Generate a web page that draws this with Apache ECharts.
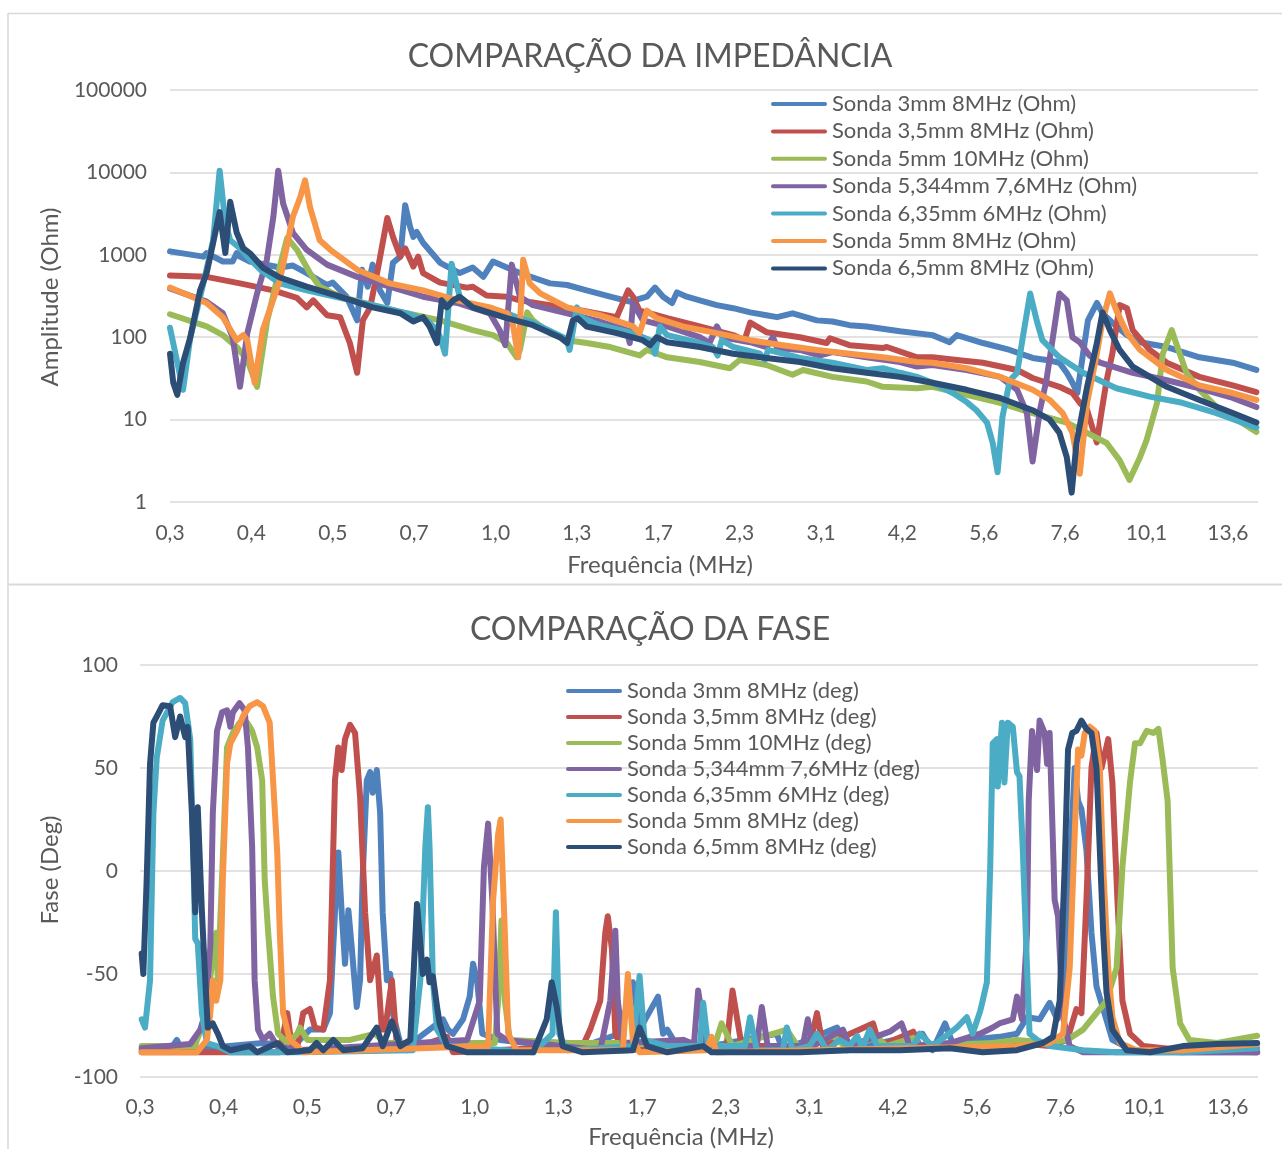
<!DOCTYPE html>
<html><head><meta charset="utf-8">
<script src="https://cdn.jsdelivr.net/npm/echarts@6/dist/echarts.min.js"></script>
<style>html,body{margin:0;padding:0;background:#fff}#c{width:1282px;height:1149px}</style>
</head><body><div id="c"></div>
<script>
// x values are positions along the log-spaced frequency sweep: 0 = 0,3 MHz, each step = next tick label
const freqTicks = ['0,3','0,4','0,5','0,7','1,0','1,3','1,7','2,3','3,1','4,2','5,6','7,6','10,1','13,6'];
const impNames = ['Sonda 3mm 8MHz (Ohm)','Sonda 3,5mm 8MHz (Ohm)','Sonda 5mm 10MHz (Ohm)','Sonda 5,344mm 7,6MHz (Ohm)','Sonda 6,35mm 6MHz (Ohm)','Sonda 5mm 8MHz (Ohm)','Sonda 6,5mm 8MHz (Ohm)'];
const phaseNames = ['Sonda 3mm 8MHz (deg)','Sonda 3,5mm 8MHz (deg)','Sonda 5mm 10MHz (deg)','Sonda 5,344mm 7,6MHz (deg)','Sonda 6,35mm 6MHz (deg)','Sonda 5mm 8MHz (deg)','Sonda 6,5mm 8MHz (deg)'];

// Impedance amplitude (Ohm)
const impS3 = [[0,1100],[0.41,950],[0.45,1050],[0.65,830],[0.77,830],[0.82,1050],[0.86,950],[0.98,830],[1.35,700],[1.51,740],[1.68,600],[1.93,430],[2.00,460],[2.17,310],[2.30,160],[2.36,660],[2.43,410],[2.49,760],[2.58,370],[2.67,260],[2.74,800],[2.83,950],[2.89,4000],[2.95,2200],[2.99,1650],[3.03,1900],[3.11,1400],[3.32,800],[3.56,600],[3.72,700],[3.85,540],[3.97,830],[4.14,700],[4.30,600],[4.46,530],[4.67,450],[4.88,430],[5.12,370],[5.41,310],[5.65,270],[5.86,310],[5.96,400],[6.06,310],[6.17,260],[6.23,350],[6.35,310],[6.51,280],[6.72,245],[6.92,225],[7.13,200],[7.33,185],[7.46,175],[7.65,195],[7.95,160],[8.14,155],[8.35,140],[8.56,135],[8.97,118],[9.37,106],[9.58,87],[9.67,106],[9.99,85],[10.32,70],[10.60,56],[10.77,53],[10.93,49],[11.02,37],[11.09,28],[11.15,21],[11.22,63],[11.28,160],[11.39,260],[11.46,195],[11.58,150],[11.76,106],[11.92,87],[12.25,76],[12.65,57],[13.06,49],[13.35,40]];
const impS35 = [[0,560],[0.45,540],[0.86,450],[1.27,370],[1.56,300],[1.68,230],[1.76,280],[1.93,185],[2.09,175],[2.21,85],[2.30,37],[2.37,160],[2.46,230],[2.56,720],[2.67,2800],[2.74,1650],[2.83,950],[2.89,1200],[2.99,720],[3.05,950],[3.11,600],[3.32,460],[3.65,400],[3.72,410],[3.89,320],[4.14,310],[4.30,280],[4.67,245],[5.07,210],[5.49,175],[5.63,370],[5.69,310],[5.77,210],[5.90,195],[6.11,170],[6.51,135],[6.92,106],[7.06,92],[7.13,150],[7.33,115],[7.74,100],[8.07,85],[8.11,97],[8.35,80],[8.76,74],[8.81,76],[9.18,57],[9.37,57],[9.67,53],[9.99,49],[10.41,40],[10.60,32],[10.93,25],[11.09,21],[11.18,16],[11.27,13],[11.39,5.3],[11.45,13],[11.51,30],[11.58,63],[11.67,245],[11.76,225],[11.83,122],[12.04,70],[12.25,49],[12.65,33],[13.06,26],[13.35,21.5]];
const impS5_10 = [[0,190],[0.45,135],[0.65,106],[0.82,76],[0.95,53],[1.07,25],[1.19,150],[1.35,720],[1.44,1600],[1.56,1150],[1.72,600],[1.84,410],[2.09,310],[2.49,245],[2.91,195],[3.32,160],[3.72,122],[3.97,106],[4.14,85],[4.26,57],[4.30,70],[4.39,200],[4.46,160],[4.67,112],[4.88,92],[5.12,85],[5.41,76],[5.77,60],[5.86,70],[6.11,57],[6.51,50],[6.88,42],[7.00,53],[7.33,46],[7.65,35],[7.78,40],[8.14,33],[8.56,29],[8.76,25],[9.18,24],[9.37,25],[9.79,20],[10.20,16],[10.60,12],[11.02,9.2],[11.27,6.9],[11.51,5.2],[11.67,3.2],[11.79,1.85],[11.92,3.5],[12.00,5.6],[12.13,16],[12.20,63],[12.31,122],[12.38,76],[12.49,37],[12.65,23],[12.90,13],[13.06,10.8],[13.35,7.1]];
const impS5344 = [[0,390],[0.45,270],[0.65,195],[0.77,100],[0.86,25],[0.95,112],[1.07,340],[1.19,870],[1.27,2900],[1.33,10500],[1.39,4200],[1.51,1850],[1.68,1150],[1.93,760],[2.30,540],[2.70,410],[3.11,310],[3.53,260],[3.93,195],[4.05,122],[4.12,80],[4.20,760],[4.30,310],[4.46,245],[4.88,195],[5.28,155],[5.61,122],[5.65,85],[5.69,260],[5.81,160],[6.11,135],[6.51,100],[6.63,85],[6.72,135],[6.79,100],[7.13,87],[7.33,76],[7.41,100],[7.46,74],[7.74,70],[7.99,60],[8.14,66],[8.56,57],[8.97,50],[9.18,44],[9.37,46],[9.79,40],[10.20,33],[10.41,23],[10.53,12],[10.60,3.1],[10.69,13],[10.77,30],[10.85,100],[10.93,340],[11.02,280],[11.09,100],[11.18,87],[11.30,60],[11.43,49],[11.83,37],[12.25,30],[12.65,24],[13.06,18.3],[13.35,14.2]];
const impS635 = [[0,130],[0.09,49],[0.16,23],[0.25,100],[0.41,450],[0.53,1500],[0.61,10500],[0.68,2450],[0.74,1500],[0.86,1200],[0.95,950],[1.11,660],[1.35,450],[1.68,370],[2.09,300],[2.49,245],[2.91,195],[3.16,160],[3.28,122],[3.32,100],[3.38,63],[3.46,780],[3.56,310],[3.72,230],[4.14,195],[4.26,175],[4.46,150],[4.83,100],[4.88,92],[4.91,70],[5.00,230],[5.07,170],[5.28,140],[5.69,112],[5.90,92],[5.96,63],[6.02,135],[6.11,106],[6.51,85],[6.67,76],[6.73,60],[6.78,92],[6.92,76],[7.25,63],[7.31,53],[7.35,70],[7.74,56],[8.14,49],[8.56,40],[8.76,42],[8.97,37],[9.18,33],[9.37,28],[9.62,21],[9.79,16.3],[9.91,13],[10.04,9.2],[10.11,5.2],[10.17,2.3],[10.23,10.8],[10.32,30],[10.41,37],[10.48,100],[10.57,340],[10.65,160],[10.72,92],[10.93,57],[11.22,37],[11.63,24],[12.04,19],[12.44,16],[12.86,12],[13.35,8]];
const impS5_8 = [[0,400],[0.45,260],[0.65,175],[0.82,92],[0.90,106],[0.95,92],[1.04,28],[1.14,122],[1.35,490],[1.51,2900],[1.60,5000],[1.66,8000],[1.72,3800],[1.84,1500],[1.97,1150],[2.30,660],[2.70,450],[3.11,370],[3.53,280],[3.93,230],[4.14,195],[4.21,150],[4.28,57],[4.34,870],[4.42,450],[4.55,340],[4.88,230],[5.28,185],[5.69,135],[5.77,112],[5.86,210],[5.98,170],[6.30,135],[6.72,112],[7.13,92],[7.53,80],[7.95,70],[8.35,63],[8.76,57],[9.18,50],[9.37,49],[9.79,42],[10.20,33],[10.60,23],[10.81,17.3],[10.97,12],[11.09,6.9],[11.18,2.2],[11.27,16],[11.39,63],[11.46,160],[11.55,340],[11.63,210],[11.76,112],[11.92,70],[12.25,40],[12.65,26],[13.06,21],[13.35,17.3]];
const impS65 = [[0,63],[0.04,28],[0.09,20],[0.16,49],[0.25,100],[0.37,370],[0.45,600],[0.53,1400],[0.61,3300],[0.68,1050],[0.74,4400],[0.82,1850],[0.90,1200],[0.98,1050],[1.14,700],[1.35,530],[1.68,410],[2.09,310],[2.49,230],[2.83,195],[2.99,155],[3.11,175],[3.19,135],[3.28,85],[3.34,280],[3.40,230],[3.48,280],[3.56,310],[3.72,230],[4.14,170],[4.46,140],[4.79,100],[4.88,85],[4.95,160],[5.01,170],[5.12,135],[5.49,112],[5.81,92],[5.90,80],[5.98,100],[6.11,87],[6.51,76],[6.92,63],[7.33,56],[7.74,50],[8.14,42],[8.56,37],[8.97,33],[9.37,28],[9.79,23],[10.20,18.3],[10.60,13],[10.81,10],[10.93,6.9],[11.02,3.5],[11.08,1.3],[11.14,5.2],[11.27,25],[11.39,85],[11.46,200],[11.55,122],[11.67,70],[11.83,44],[12.25,25],[12.65,17.3],[13.06,12],[13.35,9.2]];

// Phase (deg)
const phS3 = [[0.02,-87],[0.36,-87],[0.44,-82],[0.50,-87],[1.47,-83.5],[1.59,-84],[1.79,-87],[2.03,-77],[2.19,-77],[2.27,-69],[2.33,-20],[2.37,9],[2.41,-20],[2.45,-45],[2.49,-19],[2.53,-37],[2.59,-66],[2.63,-53],[2.66,-4],[2.71,44],[2.75,48],[2.78,38],[2.83,49],[2.87,28],[2.90,-20],[2.95,-53],[2.99,-50],[3.02,-69],[3.11,-83.5],[3.23,-84],[3.62,-72],[3.68,-77],[3.74,-79],[3.86,-72],[3.94,-61],[3.98,-45],[4.03,-54],[4.09,-79],[4.30,-82],[4.62,-83.5],[5.41,-83.5],[5.73,-79],[5.89,-54],[5.97,-77],[6.19,-61],[6.25,-79],[6.30,-77],[6.42,-85],[6.49,-82],[6.57,-87],[7.61,-79],[7.68,-87],[8.33,-76],[8.45,-87],[9.35,-79],[9.47,-87],[9.62,-74],[9.71,-83.5],[9.88,-82],[10.27,-80.5],[10.48,-79],[10.60,-71],[10.75,-72],[10.87,-64],[10.96,-72],[11.05,-54],[11.11,2],[11.17,50],[11.21,34],[11.25,30],[11.31,10],[11.37,-30],[11.43,-56],[11.51,-67],[11.62,-82],[11.86,-87],[12.46,-88],[13.35,-88]];
const phS35 = [[0.02,-88],[1.67,-88],[1.76,-69],[1.82,-87],[1.88,-85],[1.95,-69],[2.03,-67],[2.09,-76],[2.19,-77],[2.27,-53],[2.33,44],[2.37,60],[2.41,49],[2.45,64],[2.51,71],[2.57,67],[2.63,36],[2.69,-20],[2.75,-53],[2.83,-41],[2.89,-77],[2.93,-77],[3.01,-53],[3.07,-85],[3.19,-87],[3.67,-80.5],[3.74,-88],[5.29,-85],[5.38,-77],[5.50,-63],[5.56,-30],[5.59,-22],[5.64,-38],[5.68,-79],[5.77,-87],[7.01,-85],[7.08,-58],[7.19,-85],[8.00,-85],[8.09,-69],[8.16,-85],[8.76,-74],[8.84,-85],[9.24,-78],[9.32,-85],[10.48,-83.5],[10.87,-85],[11.08,-82],[11.19,-67],[11.25,-69],[11.31,-14],[11.37,50],[11.43,67],[11.49,50],[11.57,64],[11.62,43],[11.68,-14],[11.74,-63],[11.83,-79],[11.99,-85],[12.46,-87],[13.35,-88]];
const phS5_10 = [[0.02,-85],[0.66,-85],[0.68,-82],[0.74,-76],[0.81,-61],[0.87,-42],[0.91,-30],[0.93,-53],[0.98,-4],[1.04,60],[1.11,67],[1.19,72],[1.28,72],[1.34,68],[1.40,60],[1.46,44],[1.49,-4],[1.53,-29],[1.59,-61],[1.65,-79],[1.76,-83.5],[1.88,-79],[1.91,-76],[2.00,-82],[2.51,-82],[2.81,-79],[2.93,-83.5],[4.24,-83.5],[4.28,-63],[4.32,-24],[4.36,-63],[4.42,-82],[5.14,-83.5],[5.89,-83.5],[6.85,-87],[6.95,-74],[7.08,-85],[7.73,-77],[7.89,-87],[8.28,-80],[8.45,-86],[8.81,-80.5],[8.92,-85],[9.24,-81],[9.32,-85],[10.19,-83.5],[10.48,-82],[10.87,-83.5],[11.08,-82],[11.27,-77],[11.39,-71],[11.55,-63],[11.67,-47],[11.74,2],[11.83,43],[11.89,62],[11.95,62],[12.03,68],[12.11,67],[12.17,69],[12.22,54],[12.28,34],[12.34,-47],[12.43,-74],[12.54,-82],[12.87,-83.5],[13.35,-80]];
const phS5344 = [[0.02,-86],[0.60,-84],[0.72,-77],[0.78,-69],[0.84,-37],[0.87,28],[0.92,68],[0.98,77],[1.04,78],[1.08,70],[1.11,77],[1.19,81.5],[1.25,78],[1.29,60],[1.34,12],[1.37,-53],[1.41,-77],[1.47,-82],[1.55,-79],[1.64,-85],[1.88,-87],[3.91,-82],[4.06,-63],[4.11,2],[4.16,23],[4.21,-14],[4.27,-79],[4.38,-82],[5.50,-87],[5.62,-63],[5.68,-29],[5.71,-63],[5.77,-83.5],[6.49,-82],[6.62,-84],[6.67,-58],[6.77,-85],[7.37,-85],[7.43,-66],[7.50,-85],[7.92,-85],[7.98,-72],[8.04,-85],[8.40,-77],[8.48,-85],[8.96,-78],[9.10,-74],[9.20,-85],[9.68,-83.5],[10.04,-79],[10.19,-76],[10.27,-74],[10.43,-72],[10.48,-61],[10.54,-72],[10.60,-30],[10.62,34],[10.66,68],[10.72,49],[10.75,73],[10.81,67],[10.84,52],[10.87,67],[10.93,-14],[10.97,-22],[11.03,-71],[11.11,-85],[11.27,-88],[13.35,-88]];
const phS635 = [[0.02,-72],[0.06,-76],[0.12,-53],[0.16,28],[0.20,55],[0.27,73],[0.39,82],[0.48,84],[0.54,81.5],[0.60,64],[0.63,20],[0.66,-33],[0.69,-35],[0.74,-69],[0.80,-83.5],[0.92,-85],[1.08,-88],[1.88,-88],[3.26,-87],[3.35,-53],[3.41,12],[3.44,31],[3.46,12],[3.50,-53],[3.55,-77],[3.67,-85],[4.70,-88],[4.93,-79],[4.97,-20],[5.01,-79],[5.10,-87],[5.89,-85],[5.97,-51],[6.03,-82],[6.30,-85],[6.69,-85],[6.73,-64],[6.79,-85],[7.23,-85],[7.29,-71],[7.37,-87],[7.68,-87],[7.73,-76],[7.80,-87],[8.00,-85],[8.09,-79],[8.21,-87],[8.36,-82],[8.48,-85],[8.57,-80],[8.63,-86],[8.72,-77],[8.81,-85],[9.24,-85],[9.32,-79],[9.47,-85],[9.76,-76],[9.88,-71],[9.95,-79],[10.04,-68],[10.07,-63],[10.12,-54],[10.16,2],[10.19,62],[10.24,64],[10.25,41],[10.30,72],[10.33,43],[10.37,72],[10.43,70],[10.48,48],[10.51,46],[10.55,10],[10.60,-47],[10.63,-79],[10.72,-82],[10.87,-85],[11.27,-87],[11.67,-88],[12.46,-88],[13.35,-86]];
const phS5_8 = [[0.02,-88],[0.68,-88],[0.80,-82],[0.84,-69],[0.87,-53],[0.91,-63],[0.96,-53],[0.99,-4],[1.04,52],[1.08,62],[1.16,68],[1.23,75],[1.31,80],[1.40,82],[1.47,80],[1.55,72],[1.59,44],[1.64,9],[1.67,-29],[1.71,-69],[1.79,-82],[1.88,-85],[1.95,-88],[4.16,-85],[4.22,-14],[4.28,18],[4.31,25],[4.36,-30],[4.40,-79],[4.50,-87],[5.77,-87],[5.83,-50],[5.89,-82],[5.97,-88],[6.77,-87],[6.83,-80.5],[6.89,-88],[10.48,-85],[10.87,-83.5],[11.03,-79],[11.11,-47],[11.17,18],[11.21,59],[11.25,56],[11.29,67],[11.35,70],[11.41,68],[11.47,50],[11.51,2],[11.57,-47],[11.62,-71],[11.71,-83.5],[11.91,-87],[12.46,-87],[13.35,-84]];
const phS65 = [[0.02,-40],[0.04,-50],[0.08,-4],[0.12,52],[0.16,72],[0.20,75],[0.27,80.5],[0.36,80],[0.42,65],[0.48,75],[0.54,65],[0.57,70],[0.62,28],[0.66,-20],[0.69,31],[0.74,-20],[0.78,-53],[0.81,-76],[0.87,-74],[0.93,-79],[0.99,-85],[1.08,-87],[1.31,-85],[1.40,-88],[1.64,-83.5],[1.76,-88],[2.03,-87],[2.11,-83.5],[2.19,-87],[2.31,-82],[2.43,-87],[2.66,-86],[2.83,-76],[2.90,-85],[3.01,-73],[3.11,-85],[3.23,-82],[3.31,-16],[3.38,-50],[3.43,-43],[3.46,-54],[3.50,-51],[3.55,-66],[3.58,-74],[3.67,-85],[3.91,-88],[4.70,-88],[4.86,-72],[4.92,-54],[4.98,-66],[5.05,-85],[5.29,-88],[5.89,-87],[5.97,-76],[6.06,-85],[6.30,-88],[6.73,-85],[6.83,-88],[7.89,-88],[8.48,-87],[9.08,-87],[9.68,-86],[10.07,-88],[10.48,-87],[10.79,-83.5],[10.91,-80.5],[10.99,-63],[11.05,2],[11.09,59],[11.14,67],[11.19,68],[11.25,73],[11.31,69],[11.37,67],[11.43,50],[11.47,10],[11.51,-30],[11.55,-59],[11.62,-77],[11.79,-87],[12.07,-88],[12.46,-85],[12.87,-84],[13.35,-83.5]];

const impSeriesData = [impS3, impS35, impS5_10, impS5344, impS635, impS5_8, impS65];
const phaseSeriesData = [phS3, phS35, phS5_10, phS5344, phS635, phS5_8, phS65];
const colors = ['#4F81BD','#C0504D','#9BBB59','#8064A2','#4BACC6','#F79646','#2C4D75'];

const FONT = 'Lato, "Open Sans", sans-serif';
const GRAY = '#595959';
const GRID_C = '#D9D9D9';
const LEGEND_ICON = 'path://M2,0 L54,0 A2,2 0 0 1 54,4 L2,4 A2,2 0 0 1 2,0 Z';

function tickFmt(v) {
  const r = Math.round(v);
  return Math.abs(v - r) < 1e-6 && freqTicks[r] !== undefined ? freqTicks[r] : '';
}
function mkSeries(names, datas, axisIdx) {
  return names.map((n, i) => ({
    name: n, type: 'line', xAxisIndex: axisIdx, yAxisIndex: axisIdx,
    data: datas[i], symbol: 'none', showSymbol: false, animation: false,
    color: colors[i],
    lineStyle: { width: 6, color: colors[i], cap: 'round', join: 'round' },
    emphasis: { disabled: true }
  }));
}
function txt(text, x, y, size, rot) {
  return { type: 'text', x: x, y: y, rotation: rot || 0, silent: true,
    style: { text: text, fill: GRAY, font: size + 'px ' + FONT, align: 'center', verticalAlign: 'middle', textAlign: 'center', textVerticalAlign: 'middle' } };
}

const chart = echarts.init(document.getElementById('c'));
chart.setOption({
  animation: false,
  backgroundColor: '#fff',
  grid: [
    { left: 170, right: 24, top: 90, height: 412 },
    { left: 140, right: 24, top: 665, height: 412 }
  ],
  xAxis: [
    { type: 'value', gridIndex: 0, min: 0, max: 13.37, interval: 1,
      axisLine: { show: false }, axisTick: { show: false }, splitLine: { show: false },
      axisLabel: { color: GRAY, fontFamily: FONT, fontSize: 21, margin: 21, showMaxLabel: false, formatter: tickFmt } },
    { type: 'value', gridIndex: 1, min: 0, max: 13.36, interval: 1,
      axisLine: { show: false }, axisTick: { show: false }, splitLine: { show: false },
      axisLabel: { color: GRAY, fontFamily: FONT, fontSize: 21, margin: 20, showMaxLabel: false, formatter: tickFmt } }
  ],
  yAxis: [
    { type: 'log', logBase: 10, gridIndex: 0, min: 1, max: 100000,
      axisLine: { show: false }, axisTick: { show: false },
      splitLine: { show: true, lineStyle: { color: GRID_C, width: 1.5 } },
      axisLabel: { color: GRAY, fontFamily: FONT, fontSize: 21, margin: 23, formatter: v => String(Math.round(v)) } },
    { type: 'value', gridIndex: 1, min: -100, max: 100, interval: 50,
      axisLine: { show: false }, axisTick: { show: false },
      splitLine: { show: true, lineStyle: { color: GRID_C, width: 1.5 } },
      axisLabel: { color: GRAY, fontFamily: FONT, fontSize: 21, margin: 22 } }
  ],
  legend: [
    { orient: 'vertical', left: 766, top: 88, itemWidth: 56, itemHeight: 4, itemGap: 5.4,
      icon: LEGEND_ICON, selectedMode: false, data: impNames,
      textStyle: { color: GRAY, fontFamily: FONT, fontSize: 22, lineHeight: 22 } },
    { orient: 'vertical', left: 561, top: 675, itemWidth: 56, itemHeight: 4, itemGap: 4,
      icon: LEGEND_ICON, selectedMode: false, data: phaseNames,
      textStyle: { color: GRAY, fontFamily: FONT, fontSize: 22, lineHeight: 22 } }
  ],
  graphic: [
    { type: 'line', silent: true, shape: { x1: 8, y1: 13.5, x2: 1282, y2: 13.5 }, style: { stroke: GRID_C, lineWidth: 1.5 } },
    { type: 'line', silent: true, shape: { x1: 8, y1: 13, x2: 8, y2: 1149 }, style: { stroke: GRID_C, lineWidth: 1.5 } },
    { type: 'line', silent: true, shape: { x1: 8, y1: 584.5, x2: 1282, y2: 584.5 }, style: { stroke: GRID_C, lineWidth: 2 } },
    txt('COMPARAÇÃO DA IMPEDÂNCIA', 650, 57, 32),
    txt('COMPARAÇÃO DA FASE', 650, 630, 32),
    txt('Frequência (MHz)', 660, 565, 24),
    txt('Frequência (MHz)', 681, 1137, 24),
    txt('Amplitude (Ohm)', 50, 297, 24, Math.PI / 2),
    txt('Fase (Deg)', 50, 870, 24, Math.PI / 2)
  ],
  series: mkSeries(impNames, impSeriesData, 0).concat(mkSeries(phaseNames, phaseSeriesData, 1))
});
</script></body></html>
